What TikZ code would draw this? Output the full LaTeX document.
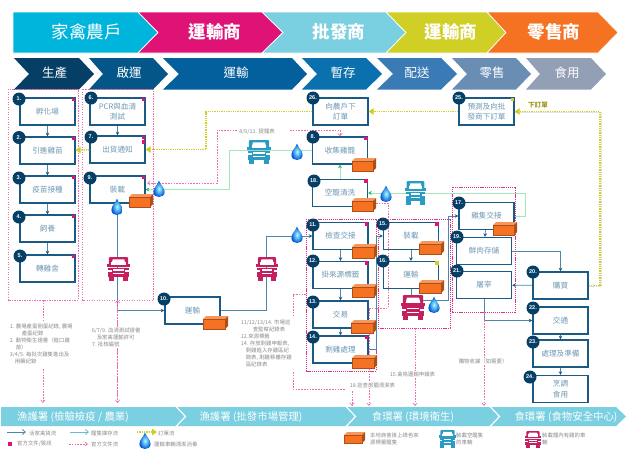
\documentclass[tikz,border=0pt]{standalone}
\usepackage{fontspec}
\setmainfont{Noto Sans CJK TC}
\newfontfamily\latinsf{Liberation Sans}
\usetikzlibrary{arrows.meta,calc}
\definecolor{cCyan}{HTML}{00B5DB}
\definecolor{cPink}{HTML}{DF1376}
\definecolor{cSky}{HTML}{7ACFE0}
\definecolor{cOlive}{HTML}{D0CF25}
\definecolor{cOrange}{HTML}{F57223}
\definecolor{cNavy}{HTML}{063F66}
\definecolor{cBorder}{HTML}{1A5A84}
\definecolor{cLine}{HTML}{4F86AC}
\definecolor{cBoxText}{HTML}{6F98B4}
\definecolor{cGrayText}{HTML}{8C8C8C}
\definecolor{cDash}{HTML}{F06EB0}
\definecolor{cFrame}{HTML}{E0308C}
\definecolor{cGreen}{HTML}{A5E6BE}
\definecolor{cGreenDark}{HTML}{20B860}
\definecolor{cYellow}{HTML}{D2CE20}
\definecolor{cTruckBlue}{HTML}{2A9CC4}
\definecolor{cTruckRed}{HTML}{C4205F}
\definecolor{cStepB}{HTML}{045688}
\definecolor{cStepC}{HTML}{04609C}
\definecolor{cStepD}{HTML}{0A70AE}
\definecolor{cStepE}{HTML}{3A7AB5}
\definecolor{cStepF}{HTML}{6A8DB4}
\definecolor{cStepG}{HTML}{929FB4}
\tikzset{
  bx/.style={draw=cBorder,fill=white,line width=1.25pt,minimum width=55pt,minimum height=27pt,inner sep=0pt,align=center,text=cBoxText,font=\fontsize{7.6}{10.5}\selectfont},
  badge/.style={circle,fill=cNavy,draw=none,minimum size=13pt,inner sep=0pt,text=white,font=\latinsf\bfseries\fontsize{5.5}{6}\selectfont},
  sq/.style={fill=cPink,draw=none,minimum size=3.6pt,inner sep=0pt,anchor=north east},
  sqy/.style={sq,fill=cOlive},
  hdA/.style={text=white,inner sep=0pt,font=\fontsize{17.5}{20}\selectfont},
  hdB/.style={hdA,font=\bfseries\fontsize{17.5}{20}\selectfont},
  hdC/.style={text=white,inner sep=0pt,font=\fontsize{12.5}{15}\selectfont},
  barT/.style={text=white,inner sep=0pt,font=\fontsize{10.4}{12}\selectfont},
  note/.style={text=cGrayText,inner sep=0pt,anchor=north west,align=left,font=\fontsize{5.4}{6.95}\selectfont},
  whitenote/.style={note,fill=white,inner sep=0.6pt},
  flow/.style={draw=cLine,line width=0.7pt,-{Stealth[length=3.6pt,width=3.6pt,color=cBorder]}},
  gtip/.style={draw=cGreen,line width=0.9pt,-{Stealth[length=3.6pt,width=3.8pt,color=cGreenDark]}},
  order/.style={draw=cYellow,line width=1.4pt,dash pattern=on 1.3pt off 1pt},
  ordertip/.style={order,-{Triangle[length=5pt,width=6.5pt,color=cYellow]}},
  orderglow/.style={draw=black!10,line width=1.4pt},
  frameA/.style={draw=cDash,line width=0.6pt,dash pattern=on 1.4pt off 1.1pt},
  frameB/.style={draw=cFrame,line width=0.9pt,dash pattern=on 1.2pt off 0.9pt},
  dashline/.style={draw=cDash,line width=0.6pt,dash pattern=on 1.6pt off 1.2pt},
  dashtip/.style={dashline,-{Straight Barb[length=2.6pt,width=4.2pt]}},
}
% orange crate: x0 y0 x1 y1
\newcommand\crate[4]{%
  \fill[cOrange] (#1,#2+3) rectangle (#3-3,#4);
  \fill[cOrange!75!white] (#1,#2+3) -- (#1+3,#2) -- (#3,#2) -- (#3-3,#2+3) -- cycle;
  \fill[cOrange!70!black] (#3-3,#2+3) -- (#3,#2) -- (#3,#4-3) -- (#3-3,#4) -- cycle;
  \draw[cOrange!70!black,line width=0.5pt] (#1,#2+3) rectangle (#3-3,#4);
}
% truck: x y w h colour
\newcommand\lorry[5]{%
  \begin{scope}[shift={(#1,#2)},x=#3pt,y=-#4pt]
    \fill[#5,rounded corners=1pt] (.08,0) -- (.92,0) -- (.92,.42) -- (.08,.42) -- cycle;
    \fill[white] (.25,.1) -- (.75,.1) -- (.81,.33) -- (.19,.33) -- cycle;
    \fill[#5] (0,.3) rectangle (1,.42);
    \fill[white] (.19,.2) rectangle (.81,.33);
    \fill[#5] (.03,.45) rectangle (.97,.82);
    \fill[white] (0,.56) rectangle (.2,.62);
    \fill[white] (.8,.56) rectangle (1,.62);
    \fill[white] (.27,.52) rectangle (.73,.57);
    \fill[white] (.27,.66) rectangle (.73,.71);
    \fill[#5] (.07,.82) rectangle (.3,1);
    \fill[#5] (.7,.82) rectangle (.93,1);
  \end{scope}}
% water drop: cx cy
\newcommand\waterdrop[2]{%
  \shade[inner color=cyan!35!white,outer color=blue!60!cyan!85!black,shift={(#1,#2)}]
    (0,-8.5) .. controls (1.4,-4) and (5.6,-1.5) .. (5.6,3)
    .. controls (5.6,6.2) and (3,8) .. (0,8)
    .. controls (-3,8) and (-5.6,6.2) .. (-5.6,3)
    .. controls (-5.6,-1.5) and (-1.4,-4) .. (0,-8.5) -- cycle;
}
\begin{document}
\begin{tikzpicture}[x=1pt,y=-1pt]
\useasboundingbox (0,0) rectangle (626,448);
\fill[white] (0,0) rectangle (626,448);

% top chevrons
\begin{scope}[draw=white,line width=0.7pt]
\filldraw[fill=cCyan] (13,12) -- (138,12) -- (158,32.5) -- (138,53) -- (13,53) -- cycle;
\filldraw[fill=cPink] (138,12) -- (262,12) -- (283,32.5) -- (262,53) -- (138,53) -- (158,32.5) -- cycle;
\filldraw[fill=cSky] (262,12) -- (386,12) -- (406,32.5) -- (386,53) -- (262,53) -- (283,32.5) -- cycle;
\filldraw[fill=cOlive] (386,12) -- (487,12) -- (506,32.5) -- (487,53) -- (386,53) -- (406,32.5) -- cycle;
\filldraw[fill=cOrange] (487,12) -- (598,12) -- (618,32.5) -- (598,53) -- (487,53) -- (506,32.5) -- cycle;
\end{scope}
\node[hdA] (h1) at (86.5,32) {家禽農戶};
\node[hdB] (h2) at (215,32) {運輸商};
\node[hdB] (h3) at (339,32) {批發商};
\node[hdB] (h4) at (451,32) {運輸商};
\node[hdB] (h5) at (554,32) {零售商};

% second row
\fill[cNavy] (14,58) -- (79,58) -- (94,74) -- (79,89.5) -- (14,89.5) -- (29,74) -- cycle;
\fill[cStepB] (89,58) -- (153,58) -- (168,74) -- (153,89.5) -- (89,89.5) -- (103,74) -- cycle;
\fill[cStepC] (163,58) -- (292,58) -- (307,74) -- (292,89.5) -- (163,89.5) -- (179,74) -- cycle;
\fill[cStepD] (302,58) -- (366,58) -- (382,74) -- (366,89.5) -- (302,89.5) -- (317,74) -- cycle;
\fill[cStepE] (377,58) -- (441,58) -- (457,74) -- (441,89.5) -- (377,89.5) -- (393,74) -- cycle;
\fill[cStepF] (452,58) -- (516,58) -- (531,74) -- (516,89.5) -- (452,89.5) -- (467,74) -- cycle;
\fill[cStepG] (526,58) -- (591,58) -- (606,74) -- (591,89.5) -- (526,89.5) -- (540,74) -- cycle;
\node[hdC] (p1) at (54.5,73) {生產};
\node[hdC] (p2) at (129,73) {啟運};
\node[hdC] (p3) at (236,73) {運輸};
\node[hdC] (p4) at (343,73) {暫存};
\node[hdC] (p5) at (417,73) {配送};
\node[hdC] (p6) at (492,73) {零售};
\node[hdC] (p7) at (567,73) {食用};

% frames
\draw[frameA] (8,89) rectangle (78.5,300);
\draw[frameA] (82.5,89) rectangle (153.5,300);
\draw[frameB] (306,219) rectangle (376,371);
\draw[frameB] (378,219) rectangle (450,328);
\draw[frameB] (452,187) rectangle (515,312);

% boxes
\node[bx] (b1) at (47.5,111.5) {孵化場};
\node[bx] (b2) at (47.5,150.5) {引進雞苗};
\node[bx] (b3) at (47.5,189.5) {疫苗接種};
\node[bx] (b4) at (47.5,228.5) {飼養};
\node[bx] (b5) at (47.5,268.5) {轉雞舍};
\node[bx] (b6) at (117.5,111.5) {PCR與血清\\測試};
\node[bx] (b7) at (117.5,149.5) {出貨通知};
\node[bx] (b9) at (117.5,189.5) {裝載};
\node[bx] (b10) at (192.5,310.5) {運輸};
\node[bx] (b26) at (340.5,111.5) {向農戶下\\訂單};
\node[bx] (b8) at (340,150.5) {收集雞籠};
\node[bx] (b18) at (340,193) {空籠清洗};
\node[bx] (b11) at (340.5,236) {檢查交接};
\node[bx] (b12) at (340.5,275) {掛來源標籤};
\node[bx] (b13) at (340.5,314.5) {交易};
\node[bx] (b14) at (340.5,349.5) {剩雞處理};
\node[bx] (b15) at (411,236) {裝載};
\node[bx] (b16) at (411,275) {運輸};
\node[bx] (b17) at (486.5,216) {雞隻交接};
\node[bx] (b19) at (484,251) {鮮肉存儲};
\node[bx] (b21) at (484,285) {屠宰};
\node[bx] (b20) at (560.5,285.5) {購買};
\node[bx] (b22) at (560.5,320.5) {交通};
\node[bx] (b23) at (560.5,353.5) {處理及準備};
\node[bx] (b24) at (560.5,389) {烹調\\食用};
\node[bx] (b25) at (486.5,111.5) {預測及向批\\發商下訂單};

% coordinates for bends
\coordinate (c9a) at (117.5,310.5);
\coordinate (c10a) at (266,310.5);
\coordinate (c10b) at (266,236);
\coordinate (c14a) at (376,349.5);
\coordinate (c14b) at (376,236);
\coordinate (c16a) at (411,300);
\coordinate (c16b) at (448,300);
\coordinate (c16c) at (448,216);
\coordinate (c19a) at (560.5,251);
\coordinate (c21a) at (484,320.5);
\coordinate (c17a) at (525,216);
\coordinate (c17b) at (525,193);
\coordinate (c8a) at (229,150.5);
\coordinate (c8b) at (229,189.5);
\coordinate (c20a) at (600,285.5);
\coordinate (c20b) at (600,111.5);
\coordinate (c26a) at (206,111.5);
\coordinate (c26b) at (206,149.5);
\coordinate (c20s) at (601.2,286.7);
\coordinate (c20t) at (601.2,112.7);

% process flow
\draw[flow] (b1) -- (b2);
\draw[flow] (b2) -- (b3);
\draw[flow] (b3) -- (b4);
\draw[flow] (b4) -- (b5);
\draw[flow] (b6) -- (b7);
\draw[flow] (b9) -- (c9a) -- (b10);
\draw[flow] (b10) -- (c10a) -- (c10b) -- (b11);
\draw[flow] (b11) -- (b12);
\draw[flow] (b12) -- (b13);
\draw[flow] (b13) -- (b14);
\draw[flow] (b14) -- (c14a) -- (c14b) -- (b15);
\draw[flow] (b15) -- (b16);
\draw[flow] (b16) -- (c16a) -- (c16b) -- (c16c) -- (b17);
\draw[flow] (b17) -- (b19);
\draw[flow] (b19) -- (c19a) -- (b20);
\draw[flow] (b20) -- (b21);
\draw[flow] (b21) -- (c21a) -- (b22);
\draw[flow] (b22) -- (b23);
\draw[flow] (b23) -- (b24);

% green (empty crates) flow
\draw[gtip] (b17.east) -- (c17a) -- (c17b) -- (b18);
\draw[gtip] (b18) -- (b8);
\draw[gtip] (b8) -- (c8a) -- (c8b) -- (b9);

% order flow
\draw[orderglow] (b20.east |- c20s) -- (c20s) -- (c20t) -- (b25.east |- c20t);
\draw[order] (b20) -- (c20a);
\draw[ordertip] (c20a) -- (c20b) -- (b25);
\draw[ordertip] (b25) -- (b26);
\draw[order] (b26) -- (c26a) -- (c26b);
\draw[ordertip] (c26b) -- (b7);
\draw[ordertip] (b7) -- (b2);
\node[text=cOlive!75!black,inner sep=0pt,font=\bfseries\fontsize{6.6}{8}\selectfont] (ordlbl) at (538,104.5) {下訂單};

% pink document flow
\coordinate (dA0) at (43,300);
\coordinate (dA1) at (43,320);
\coordinate (dA2) at (43,369);
\coordinate (dA3) at (43,403);
\coordinate (dB0) at (117.5,300);
\coordinate (dB1) at (117.5,403);
\draw[dashline] (dA0) -- (dA1);
\draw[dashtip] (dA2) -- (dA3);
\draw[dashtip] (dB1) -- (dB0);
\draw[dashtip] (dB0) -- (dB1);

\coordinate (dC0) at (147,183);
\coordinate (dC1) at (217,183);
\coordinate (dC2) at (217,130);
\coordinate (dC3) at (237,130);
\coordinate (dC4) at (290,130);
\coordinate (dC5) at (340,130);
\draw[dashtip] (dC3) -- (dC2) -- (dC1) -- (dC0);
\draw[dashtip] (dC4) -- (dC5) -- (b8.north -| dC5);

\coordinate (dD0) at (376,203);
\coordinate (dD1) at (388,203);
\coordinate (dD2) at (388,308);
\coordinate (dD3) at (369,308);
\coordinate (dD4) at (369,406);
\draw[dashtip] (dD0) -- (dD1) -- (dD2) -- (dD3) -- (dD4);

\coordinate (dE0) at (306,294);
\coordinate (dE1) at (293,294);
\coordinate (dE2) at (293,315);
\coordinate (dE3) at (293,372);
\coordinate (dE4) at (293,389);
\coordinate (dE5) at (345,389);
\coordinate (dE6) at (352,391);
\coordinate (dE7) at (352,406);
\draw[dashline] (dE0) -- (dE1) -- (dE2);
\draw[dashline] (dE3) -- (dE4) -- (dE5);
\draw[dashtip] (dE6) -- (dE7);

\coordinate (dF0) at (415,328);
\coordinate (dF1) at (415,406);
\draw[dashtip] (dF0) -- (dF1);
\coordinate (dG0) at (484,312);
\coordinate (dG1) at (484,406);
\draw[dashtip] (dG0) -- (dG1);

% flags
\node[sq] (s1) at (b1.north east) {};
\node[sq] (s2) at (b2.north east) {};
\node[sq] (s3) at (b3.north east) {};
\node[sq] (s4) at (b4.north east) {};
\node[sq] (s5) at (b5.north east) {};
\node[sq] (s6) at (b6.north east) {};
\node[sq] (s7) at (b7.north east) {};
\node[sq] (s7b) at ($(b7.north east)+(0,4.4)$) {};
\node[sq] (s9) at (b9.north east) {};
\node[sq] (s8) at (b8.north east) {};
\node[sq] (s18) at (b18.north east) {};
\node[sq] (s11) at (b11.north east) {};
\node[sq] (s12) at (b12.north east) {};
\node[sq] (s14) at (b14.north east) {};
\node[sq] (s15) at (b15.north east) {};
\node[sqy] (s16) at (b16.north east) {};
\node[sqy] (s25) at (b25.north east) {};

% badges
\node[badge] (n1) at (19,99) {1.};
\node[badge] (n2) at (19,137.5) {2.};
\node[badge] (n3) at (19,178) {3.};
\node[badge] (n4) at (19,217) {4.};
\node[badge] (n5) at (20,256) {5.};
\node[badge] (n6) at (91,98) {6.};
\node[badge] (n7) at (91,137) {7.};
\node[badge] (n9) at (90,178) {9.};
\node[badge] (n10) at (164,299) {10.};
\node[badge] (n26) at (313,98) {26.};
\node[badge] (n8) at (313,137) {8.};
\node[badge] (n18) at (314,181) {18.};
\node[badge] (n11) at (313,225) {11.};
\node[badge] (n12) at (313,261) {12.};
\node[badge] (n13) at (313,302) {13.};
\node[badge] (n14) at (313,337) {14.};
\node[badge] (n15) at (383,224) {15.};
\node[badge] (n16) at (383,261) {16.};
\node[badge] (n17) at (459,203) {17.};
\node[badge] (n19) at (457,237) {19.};
\node[badge] (n21) at (457,271) {21.};
\node[badge] (n20) at (533,272) {20.};
\node[badge] (n22) at (533,308) {22.};
\node[badge] (n23) at (533,342) {23.};
\node[badge] (n24) at (530,377) {24.};
\node[badge] (n25) at (459,98) {25.};

% crates
\crate{129}{194}{153}{207}
\crate{203}{316}{228}{329}
\crate{352}{158}{376}{171}
\crate{352}{198}{376}{211}
\crate{352}{244}{377}{258}
\crate{352}{284}{377}{297}
\crate{351}{320}{376}{333}
\crate{352}{355}{377}{368}
\crate{419}{241}{444}{254}
\crate{419}{280}{444}{293}
\crate{493}{222}{517}{235}

% trucks
\lorry{247}{140}{24}{24}{cTruckBlue}
\lorry{405}{181}{21}{24}{cTruckBlue}
\lorry{107}{257}{23}{24}{cTruckRed}
\lorry{256}{257}{22}{24}{cTruckRed}
\lorry{401}{295}{24}{25}{cTruckRed}

% drops
\waterdrop{159}{189}
\waterdrop{117}{207}
\waterdrop{297}{152}
\waterdrop{297}{235}
\waterdrop{386}{194}
\waterdrop{434}{305}

% notes
\node[whitenote] (t1) at (9,323.5) {1. 農場產蛋剛蛋紀錄, 農場\\\hspace*{12pt}產蛋紀錄\\2. 動物衛生證書（進口雞\\\hspace*{6pt}苗）\\3/4/5. 每批次雞隻進出及\\\hspace*{5pt}用藥紀錄};
\node[whitenote] (t2) at (91,327.5) {6/7/9. 血清測試證書\\\hspace*{5pt}及家禽運輸許可\\7. 批核編號};
\node[whitenote] (t3) at (240,319.5) {11/12/13/14. 市場巡\\\hspace*{12pt}查監察紀錄表\\12.來源標籤\\14. 存放剩雞申報表,\\\hspace*{5pt}剩雞進入存雞區紀\\\hspace*{5pt}錄表, 剩雞移離存雞\\\hspace*{5pt}區紀錄表};
\node[whitenote] (t4) at (238.5,127.8) {8/9/11. 提籠表};
\node[whitenote] (t5) at (349,381.8) {18.巡查部籠清潔表};
\node[whitenote] (t6) at (389,370.8) {15.禽鳥運輸申報表};
\node[whitenote] (t7) at (458,357.8) {購物收據（如需要）};

% bottom bar
\fill[cSky] (1,407) -- (616,407) -- (626,416.5) -- (616,426) -- (1,426) -- cycle;
\draw[white,line width=1.2pt] (176,406.5) -- (185.5,416.5) -- (176,426.5);
\draw[white,line width=1.2pt] (346,406.5) -- (355.5,416.5) -- (346,426.5);
\draw[white,line width=1.2pt] (490,406.5) -- (499.5,416.5) -- (490,426.5);
\node[barT] (g1) at (73,417) {漁護署 (檢驗檢疫 / 農業)};
\node[barT] (g2) at (251,417) {漁護署 (批發市場管理)};
\node[barT] (g3) at (413,417) {食環署 (環境衛生)};
\node[barT] (g4) at (566,417) {食環署 (食物安全中心)};

% legend
\coordinate (l1a) at (7,432);
\coordinate (l1b) at (26,432);
\coordinate (l2a) at (70,432);
\coordinate (l2b) at (89,432);
\coordinate (l3a) at (137,432);
\coordinate (l3b) at (157,432);
\coordinate (l4a) at (69,444);
\coordinate (l4b) at (88,444);
\draw[cLine,line width=0.8pt,-{Straight Barb[length=3pt,width=5pt]}] (l1a) -- (l1b);
\draw[cTruckBlue!70!white,line width=0.8pt,-{Straight Barb[length=3pt,width=5pt]}] (l2a) -- (l2b);
\draw[ordertip] (l3a) -- (l3b);
\draw[dashtip] (l4a) -- (l4b);
\node[sq,anchor=center,minimum size=4.2pt] (lsq) at (10,444) {};
\node[note,anchor=west] (lt1) at (29,433) {活家禽貨流};
\node[note,anchor=west] (lt2) at (91,433) {籠隻庫存流};
\node[note,anchor=west] (lt3) at (158,433) {訂單流};
\node[note,anchor=west] (lt4) at (17,444) {官方文件/簽訊};
\node[note,anchor=west] (lt5) at (91,444) {官方文件流};
\node[note,anchor=west] (lt6) at (154,444) {運輸車輛清潔消毒};
\node[note] (lt7) at (370,432.5) {本地商會掛上綠色來\\源標籤籠隻};
\node[note] (lt8) at (456,432.5) {裝載空籠隻\\的車輛};
\node[note] (lt9) at (542,432.5) {裝載籠內有雞的車\\輛};
\waterdrop{145}{441}
\crate{344}{432}{365}{443}
\lorry{439}{430}{17}{18}{cTruckBlue}
\lorry{525}{431}{16}{17}{cTruckRed}
\end{tikzpicture}
\end{document}
